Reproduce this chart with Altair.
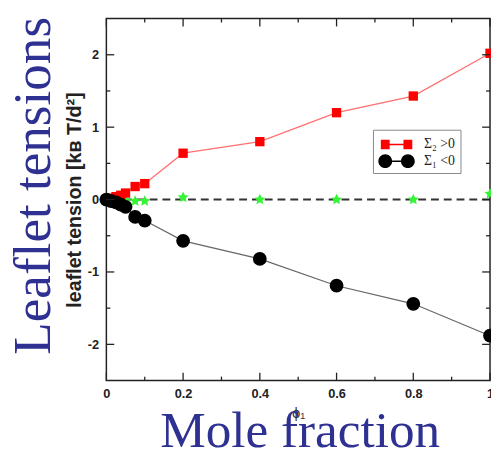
import altair as alt
import pandas as pd

# ---- data ----
phi = [0, 0.0125, 0.025, 0.0375, 0.05, 0.075, 0.1, 0.2, 0.4, 0.6, 0.8, 1.0]
sigma2_pos = [0.0, 0.02, 0.04, 0.06, 0.09, 0.18, 0.22, 0.64, 0.80, 1.20, 1.43, 2.02]
sigma1_neg = [0.0, -0.02, -0.04, -0.07, -0.10, -0.24, -0.29, -0.57, -0.82, -1.19, -1.44, -1.88]
sum_sigma = [0.0, 0.0, 0.0, 0.0, -0.01, -0.02, -0.02, 0.03, 0.0, 0.0, 0.0, 0.08]

series_labels = ["Σ₂ >0", "Σ₁ <0"]
x_major = [0, 0.2, 0.4, 0.6, 0.8, 1.0]
x_minor = [0.1, 0.3, 0.5, 0.7, 0.9]
y_major = [-2, -1, 0, 1, 2]
y_minor = [-1.5, -0.5, 0.5, 1.5]
big_y_text = ["Leaflet tensions"]
big_x_text = ["Mole fraction"]

# ---- layout / style ----
W, H = 390, 368
XMIN, XMAX, YMIN, YMAX = 0, 1, -2.5, 2.5
MAJ, MIN = 8, 4  # tick lengths in px
ux = (XMAX - XMIN) / W
uy = (YMAX - YMIN) / H
BLUE = "#2E3192"
SANS = "Liberation Sans"

xs = alt.Scale(domain=[XMIN, XMAX], nice=False, zero=False)
ys = alt.Scale(domain=[YMIN, YMAX], nice=False, zero=False)
xaxis = alt.Axis(values=x_major, labelExpr="toString(datum.value)", domain=False, ticks=False,
                 grid=False, labelFont=SANS, labelFontWeight="bold", labelFontSize=13,
                 labelColor="#222", labelPadding=7, labelFlush=False, title="ϕ₁",
                 titleFont=SANS, titleFontSize=15, titleFontWeight="normal", titleColor="#333",
                 titlePadding=6)
yaxis = alt.Axis(values=y_major, labelExpr="toString(datum.value)", domain=False, ticks=False,
                 grid=False, labelFont=SANS, labelFontWeight="bold", labelFontSize=13,
                 labelColor="#222", labelPadding=8, labelFlush=False,
                 title="leaflet tension  [kʙ T/d²]",
                 titleFont=SANS, titleFontSize=20, titleFontWeight="bold", titleColor="#222",
                 titlePadding=3)


def X(f="x"):
    return alt.X(f"{f}:Q", scale=xs, axis=xaxis)


def Y(f="y"):
    return alt.Y(f"{f}:Q", scale=ys, axis=yaxis)


red = pd.DataFrame({"x": phi, "y": sigma2_pos})
blk = pd.DataFrame({"x": phi, "y": sigma1_neg})
grn = pd.DataFrame({"x": phi, "y": sum_sigma})

zero = alt.Chart(pd.DataFrame({"y": [0]})).mark_rule(
    color="#333", strokeDash=[8, 5], strokeWidth=2).encode(y=Y())

red_line = alt.Chart(red).mark_line(color="#ff7070", strokeWidth=1.3).encode(x=X(), y=Y())
blk_line = alt.Chart(blk).mark_line(color="#666", strokeWidth=1.2).encode(x=X(), y=Y())

STAR = "M0,-1L0.3,-0.35L0.95,-0.31L0.45,0.15L0.59,0.81L0,0.48L-0.59,0.81L-0.45,0.15L-0.95,-0.31L-0.3,-0.35Z"
grn_pts = alt.Chart(grn).mark_point(shape=STAR, filled=True, size=140, color="#33f533",
                                    opacity=1).encode(x=X(), y=Y())
red_pts = alt.Chart(red).mark_point(shape="square", filled=True, size=90, color="#ff0000",
                                    opacity=1).encode(x=X(), y=Y())
blk_pts = alt.Chart(blk).mark_point(shape="circle", filled=True, size=196, color="#000000",
                                    opacity=1).encode(x=X(), y=Y())

# inward ticks on all four sides
rows = []
for v in x_major:
    rows.append({"x": v, "x2": v, "y": YMIN, "y2": YMIN + MAJ * uy})
    rows.append({"x": v, "x2": v, "y": YMAX, "y2": YMAX - MAJ * uy})
for v in x_minor:
    rows.append({"x": v, "x2": v, "y": YMIN, "y2": YMIN + MIN * uy})
    rows.append({"x": v, "x2": v, "y": YMAX, "y2": YMAX - MIN * uy})
for v in y_major:
    rows.append({"x": XMIN, "x2": XMIN + MAJ * ux, "y": v, "y2": v})
    rows.append({"x": XMAX, "x2": XMAX - MAJ * ux, "y": v, "y2": v})
for v in y_minor:
    rows.append({"x": XMIN, "x2": XMIN + MIN * ux, "y": v, "y2": v})
    rows.append({"x": XMAX, "x2": XMAX - MIN * ux, "y": v, "y2": v})
ticks = alt.Chart(pd.DataFrame(rows)).mark_rule(color="#222", strokeWidth=1.3).encode(
    x=X(), x2="x2:Q", y=Y(), y2="y2:Q")

# legend glyphs (marker - line - marker); unit = 10 px with symbolSize 400
RED_GLYPH = ("M-1.6,-0.48H-0.7V0.48H-1.6Z M-0.7,-0.08H0.7V0.08H-0.7Z "
             "M0.7,-0.48H1.6V0.48H0.7Z")
BLK_GLYPH = ("M-1.85,0A0.7,0.7 0 1,0 -0.45,0A0.7,0.7 0 1,0 -1.85,0Z "
             "M-0.45,-0.08H0.45V0.08H-0.45Z "
             "M0.45,0A0.7,0.7 0 1,0 1.85,0A0.7,0.7 0 1,0 0.45,0Z")
leg = alt.Legend(title=None, orient="none", legendX=271, legendY=113, symbolSize=400,
                 symbolStrokeWidth=0, symbolOpacity=1, strokeColor="#888", padding=5,
                 symbolOffset=9, labelOffset=18,
                 labelFont="Liberation Serif", labelFontSize=14, labelColor="#222",
                 rowPadding=0, fillColor="white")
leg_df = pd.DataFrame({"x": [phi[0], phi[0]], "y": [sigma2_pos[0], sigma1_neg[0]],
                       "s": series_labels})
legend_layer = alt.Chart(leg_df).mark_point(filled=True, size=0, opacity=1).encode(
    x=X(), y=Y(),
    color=alt.Color("s:N", scale=alt.Scale(domain=series_labels, range=["#ff0000", "#000000"]),
                    legend=leg),
    shape=alt.Shape("s:N", scale=alt.Scale(domain=series_labels, range=[RED_GLYPH, BLK_GLYPH]),
                    legend=leg),
)

big_y = alt.Chart(pd.DataFrame({"t": big_y_text})).mark_text(
    font="Liberation Serif", fontSize=54, color=BLUE, angle=270, align="center",
    baseline="middle").encode(text="t:N", x=alt.value(-73), y=alt.value(170))
big_x = alt.Chart(pd.DataFrame({"t": big_x_text})).mark_text(
    font="Liberation Serif", fontSize=52, color=BLUE, align="center",
    baseline="alphabetic").encode(text="t:N", x=alt.value(197), y=alt.value(436))

chart = alt.layer(zero, red_line, blk_line, grn_pts, red_pts, blk_pts, ticks,
                  legend_layer, big_y, big_x).properties(
    width=W, height=H, autosize="none",
    padding={"left": 100, "top": 7, "right": 1, "bottom": 76},
    background="white",
).configure_view(stroke="#222", strokeWidth=1.5)

chart.save("out.html", embed_options={"renderer": "svg", "actions": False})
